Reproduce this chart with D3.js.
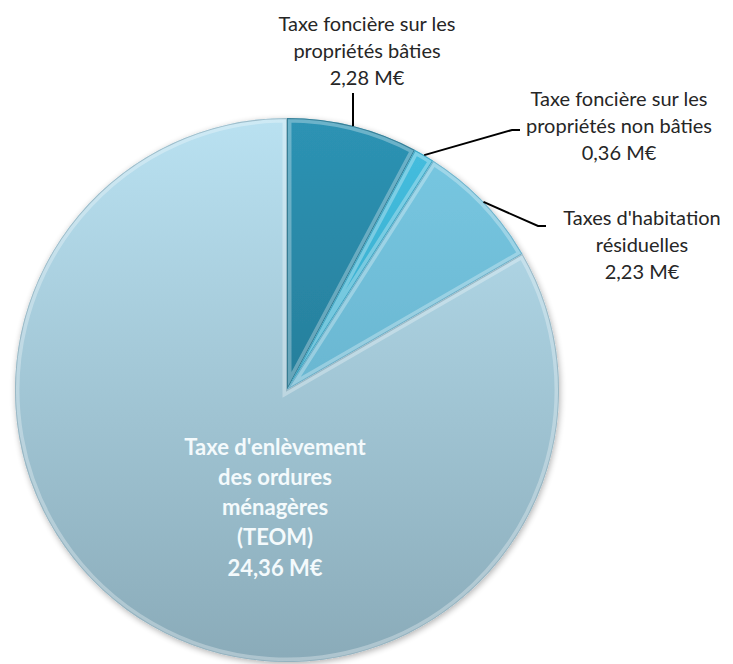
<!DOCTYPE html>
<html>
<head>
<meta charset="utf-8">
<script src="https://cdn.jsdelivr.net/npm/d3@7"></script>
<style>
  body { margin: 0; background: #fff; }
  svg text { font-family: Lato, "Open Sans", sans-serif; }
</style>
</head>
<body>
<div id="chart"></div>
<script>
// data
const categories = [
  "Taxe foncière sur les propriétés bâties",
  "Taxe foncière sur les propriétés non bâties",
  "Taxes d'habitation résiduelles",
  "Taxe d'enlèvement des ordures ménagères (TEOM)"
];
const labelLines = [
  ["Taxe foncière sur les", "propriétés bâties"],
  ["Taxe foncière sur les", "propriétés non bâties"],
  ["Taxes d'habitation", "résiduelles"],
  ["Taxe d'enlèvement", "des ordures", "ménagères", "(TEOM)"]
];
const values = [2.28, 0.36, 2.23, 24.36];
const topColors = ["#2d93b4", "#46bfe0", "#79c9e3", "#b9e1f1"];
const bottomColors = ["#206a82", "#2896b5", "#5ba4bf", "#8aabb9"];

const width = 733, height = 664;
const cx = 287, cy = 390, radius = 272;

const fmt = (v) => v.toFixed(2).replace(".", ",") + " M€";

const svg = d3.select("#chart").append("svg")
  .attr("width", width)
  .attr("height", height);

const defs = svg.append("defs");

// vertical gradient per slice
categories.forEach((c, i) => {
  const g = defs.append("linearGradient")
    .attr("id", "grad" + i)
    .attr("gradientUnits", "userSpaceOnUse")
    .attr("x1", 0).attr("y1", -radius)
    .attr("x2", 0).attr("y2", radius);
  g.append("stop").attr("offset", "0%").attr("stop-color", topColors[i]);
  g.append("stop").attr("offset", "100%").attr("stop-color", bottomColors[i]);
});

const shadow = defs.append("filter").attr("id", "shadow")
  .attr("x", "-10%").attr("y", "-10%").attr("width", "120%").attr("height", "120%");
shadow.append("feGaussianBlur").attr("in", "SourceAlpha").attr("stdDeviation", 3);
shadow.append("feOffset").attr("dx", 1).attr("dy", 2).attr("result", "off");
shadow.append("feComponentTransfer").append("feFuncA").attr("type", "linear").attr("slope", 0.3);
const merge = shadow.append("feMerge");
merge.append("feMergeNode");
merge.append("feMergeNode").attr("in", "SourceGraphic");

const pie = d3.pie().sort(null).value((d) => d);
const arcs = pie(values);
const arc = d3.arc().innerRadius(0).outerRadius(radius);

const g = svg.append("g").attr("transform", `translate(${cx},${cy})`);

// clip paths so the bevel stroke stays inside each slice
arcs.forEach((d, i) => {
  defs.append("clipPath").attr("id", "clip" + i)
    .append("path").attr("d", arc(d));
});

const slices = g.append("g").attr("filter", "url(#shadow)")
  .selectAll("g.slice")
  .data(arcs)
  .enter()
  .append("g")
  .attr("class", "slice");

slices.append("path")
  .attr("d", arc)
  .attr("fill", (d, i) => `url(#grad${i})`);

// inner bevel: light band along the edges
slices.append("path")
  .attr("d", arc)
  .attr("fill", "none")
  .attr("clip-path", (d, i) => `url(#clip${i})`)
  .attr("stroke", "#ffffff")
  .attr("stroke-opacity", 0.3)
  .attr("stroke-width", 9);

slices.append("path")
  .attr("d", arc)
  .attr("fill", "none")
  .attr("clip-path", (d, i) => `url(#clip${i})`)
  .attr("stroke", (d, i) => bottomColors[i])
  .attr("stroke-opacity", 0.7)
  .attr("stroke-width", 2);

// outside labels with leader lines
const outside = [
  { i: 0, bend: null, tx: 367, ty: 24 },
  { i: 1, bend: [512, 130], end: [520, 130], tx: 619, ty: 99 },
  { i: 2, bend: [538, 226], end: [546, 226], tx: 642, ty: 218 }
];
const lineH = 27;

outside.forEach((o) => {
  const d = arcs[o.i];
  const mid = (d.startAngle + d.endAngle) / 2;
  const px = cx + radius * Math.sin(mid);
  const py = cy - radius * Math.cos(mid);
  let pts;
  if (o.bend) {
    pts = [[px, py], o.bend, o.end];
  } else {
    pts = [[px, py], [px, 93]];
  }
  svg.append("path")
    .attr("d", d3.line()(pts))
    .attr("fill", "none")
    .attr("stroke", "#000")
    .attr("stroke-width", 2);

  const lines = labelLines[o.i].concat([fmt(values[o.i])]);
  const t = svg.append("text")
    .attr("text-anchor", "middle")
    .attr("fill", "#262626")
    .style("font-size", "20px");
  lines.forEach((l, k) => {
    t.append("tspan")
      .attr("x", o.tx)
      .attr("y", o.ty + k * lineH)
      .attr("dy", "0.35em")
      .text(l);
  });
});

// inside label for the big slice
const teomLines = labelLines[3].concat([fmt(values[3])]);
const tt = svg.append("text")
  .attr("text-anchor", "middle")
  .attr("fill", "#f4fafc")
  .style("font-size", "22px")
  .style("font-weight", "bold");
teomLines.forEach((l, k) => {
  tt.append("tspan")
    .attr("x", 275)
    .attr("y", 447 + k * 30.2)
    .attr("dy", "0.35em")
    .text(l);
});
</script>
</body>
</html>
